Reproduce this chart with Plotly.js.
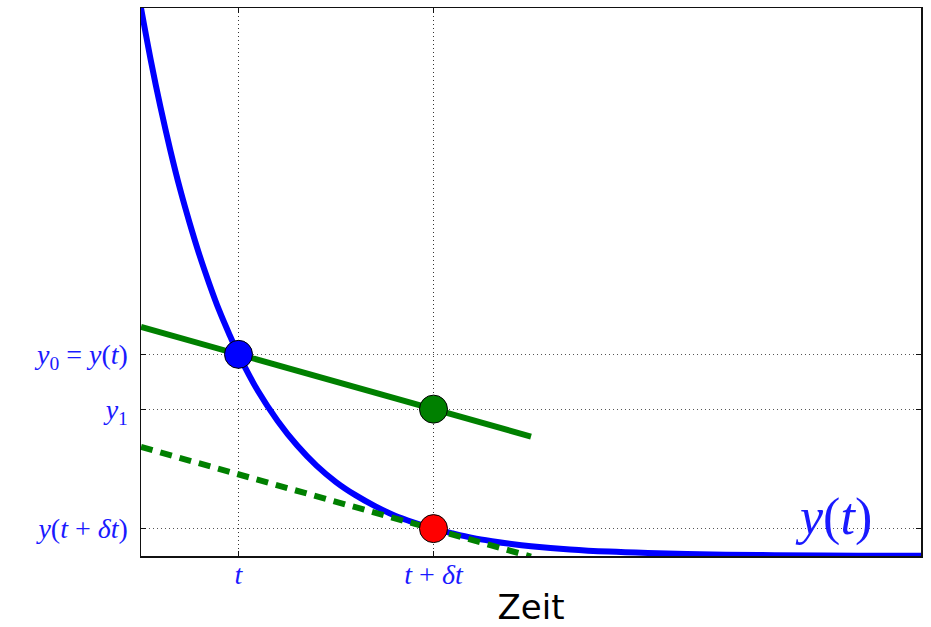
<!DOCTYPE html>
<html>
<head>
<meta charset="utf-8">
<script src="https://cdn.plot.ly/plotly-3.0.1.min.js"></script>
<style>html,body{margin:0;padding:0;background:#fff}#chart{width:931px;height:627px}</style>
</head>
<body>
<div id="chart"></div>
<script>
// Curve y(t)
const curveT = [0,0.05,0.1,0.15,0.2,0.25,0.3,0.35,0.4,0.45,0.5,0.6,0.7,0.8,0.9,1.0,1.1,1.2,1.3,1.4,1.5,1.6,1.7,1.8,1.9,2.0,2.2,2.4,2.6,2.8,3.0,3.25,3.5,3.75,4.0];
const curveY = [1.000,0.905,0.819,0.741,0.670,0.607,0.549,0.497,0.449,0.407,0.368,0.301,0.247,0.202,0.165,0.135,0.111,0.091,0.074,0.061,0.050,0.041,0.033,0.027,0.022,0.018,0.012,0.008,0.0055,0.0037,0.0025,0.0015,0.0009,0.0006,0.0003];
// Green solid line (through y0 and y1)
const greenT = [0, 2];
const greenY = [0.418, 0.218];
// Green dashed tangent at t+δt
const dashT = [0, 2];
const dashY = [0.199, -0.001];
// Points
const ptT = [0.5, 1.5, 1.5];
const ptY = [0.368, 0.268, 0.050];
const ptColors = ['#0000ff', '#008000', '#ff0000'];
// Ticks
const xTickVals = [0.5, 1.5];
const xTickText = ['<i>t</i>', '<i>t</i> + <i>δt</i>'];
const yTickVals = [0.050, 0.268, 0.368];
const yTickText = ['<i>y</i>(<i>t</i> + <i>δt</i>)', '<i>y</i><sub>1</sub>', '<i>y</i><sub>0</sub> = <i>y</i>(<i>t</i>)'];

const traces = [
  {x: curveT, y: curveY, mode: 'lines', line: {color: '#0000ff', width: 6, shape: 'spline'}, hoverinfo: 'skip'},
  {x: greenT, y: greenY, mode: 'lines', line: {color: '#008000', width: 6}, hoverinfo: 'skip'},
  {x: dashT, y: dashY, mode: 'lines', line: {color: '#008000', width: 6, dash: '12px,8px'}, hoverinfo: 'skip'},
  {x: ptT, y: ptY, mode: 'markers', marker: {color: ptColors, size: 28, line: {color: '#000', width: 1}}, hoverinfo: 'skip', cliponaxis: false}
];

const tickFont = {family: 'Liberation Serif, serif', size: 28, color: '#1a1aff'};
const layout = {
  width: 931, height: 627,
  margin: {l: 141, r: 10, t: 8, b: 71, autoexpand: false},
  showlegend: false,
  paper_bgcolor: '#fff', plot_bgcolor: '#fff',
  xaxis: {
    range: [0, 4], tickvals: xTickVals, ticktext: xTickText, tickfont: tickFont,
    showgrid: true, gridcolor: '#333', griddash: '1px,3px', gridwidth: 1,
    zeroline: false, showline: true, linecolor: '#111', linewidth: 1.5, mirror: 'ticks',
    ticks: 'inside', ticklen: 5, tickcolor: '#111', ticklabelstandoff: -7,
    automargin: true,
    title: {text: 'Zeit', font: {family: 'DejaVu Sans, sans-serif', size: 34, color: '#000'}, standoff: 13}
  },
  yaxis: {
    range: [0, 1], tickvals: yTickVals, ticktext: yTickText, tickfont: tickFont,
    showgrid: true, gridcolor: '#555', griddash: '1px,3px', gridwidth: 1,
    zeroline: false, showline: true, linecolor: '#111', linewidth: 1.5, mirror: 'ticks',
    ticks: 'inside', ticklen: 5, tickcolor: '#111', ticklabelstandoff: 6
  },
  annotations: [{
    x: 3.55, y: 0.071, xref: 'x', yref: 'y', showarrow: false,
    text: '<i>y</i>(<i>t</i>)', font: {family: 'Liberation Serif, serif', size: 52, color: '#1a1aff'}
  }]
};
Plotly.newPlot('chart', traces, layout, {displayModeBar: false, staticPlot: true});
</script>
</body>
</html>
